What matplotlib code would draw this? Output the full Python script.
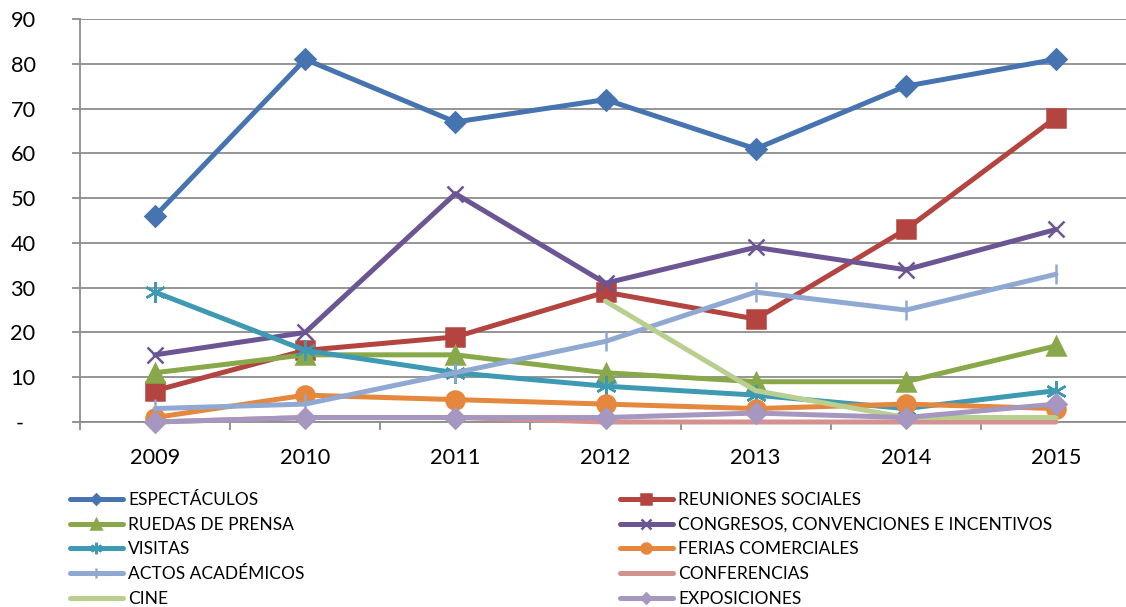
import numpy as np
import matplotlib
matplotlib.use("Agg")
import matplotlib.pyplot as plt
from matplotlib.ticker import FixedLocator

plt.rcParams['font.family'] = ['Lato', 'DejaVu Sans']

# events per year and type
years = ['2009', '2010', '2011', '2012', '2013', '2014', '2015']
espectaculos = [46, 81, 67, 72, 61, 75, 81]
reuniones = [7, 16, 19, 29, 23, 43, 68]
ruedas = [11, 15, 15, 11, 9, 9, 17]
congresos = [15, 20, 51, 31, 39, 34, 43]
visitas = [29, 16, 11, 8, 6, 3, 7]
ferias = [1, 6, 5, 4, 3, 4, 3]
actos = [3, 4, 11, 18, 29, 25, 33]
conferencias = [0, 1, 1, 0, 0, 0, 0]
cine = [np.nan, np.nan, np.nan, 27, 7, 1, 1]
exposiciones = [0, 1, 1, 1, 2, 1, 4]

series = [
    ('ESPECTÁCULOS', espectaculos, '#4674B0', 'D', 10),
    ('REUNIONES SOCIALES', reuniones, '#B3443F', 's', 13),
    ('RUEDAS DE PRENSA', ruedas, '#89A84A', '^', 13),
    ('CONGRESOS, CONVENCIONES E INCENTIVOS', congresos, '#6C5593', 'x', 12),
    ('VISITAS', visitas, '#3E9AB2', (6, 2, 0), 15),
    ('FERIAS COMERCIALES', ferias, '#E5873C', 'o', 13),
    ('ACTOS ACADÉMICOS', actos, '#90A9D2', '|', 14),
    ('CONFERENCIAS', conferencias, '#D49190', '', 0),
    ('CINE', cine, '#B8CF8F', '', 0),
    ('EXPOSICIONES', exposiciones, '#A597BF', 'D', 10),
]

fig = plt.figure(figsize=(11.26, 6.07), dpi=100)
ax = fig.add_axes([80 / 1126, 185 / 607, 1051 / 1126, 403 / 607])

x = np.arange(len(years))
handles = []
for i, (name, vals, col, mk, ms) in enumerate(series):
    h, = ax.plot(x, vals, color=col, lw=3.6, marker=mk if mk else None,
                 markersize=ms, markeredgewidth=1.8, label=name,
                 solid_capstyle='round', solid_joinstyle='round',
                 zorder=3 + i * 0.1, clip_on=False)
    handles.append(h)

ax.set_xlim(-0.5, 6.5)
ax.set_ylim(0, 90)
ax.set_yticks(range(0, 91, 10))
ax.set_yticklabels(['-  '] + [str(v) for v in range(10, 91, 10)])
ax.set_xticks(x)
ax.set_xticklabels(years)
ax.xaxis.set_minor_locator(FixedLocator(np.arange(-0.5, 7, 1)))
ax.tick_params(axis='x', which='major', length=0, pad=19, labelsize=15.7)
ax.tick_params(axis='x', which='minor', length=6, width=1.3, color='#8C8C8C')
ax.tick_params(axis='y', length=6, width=1.3, color='#8C8C8C', pad=26,
               labelsize=15.7)

ax.grid(axis='y', color='#8C8C8C', lw=1.3)
ax.set_axisbelow(True)
for s in ['top', 'right']:
    ax.spines[s].set_visible(False)
for s in ['left', 'bottom']:
    ax.spines[s].set_color('#8C8C8C')
    ax.spines[s].set_linewidth(1.3)

# two-column legend below the plot, filled row by row
left = [handles[i] for i in range(0, 10, 2)]
right = [handles[i] for i in range(1, 10, 2)]
kw = dict(frameon=False, fontsize=12.5, handlelength=3.05, handletextpad=0.3,
          labelspacing=0.5, borderpad=0, borderaxespad=0, loc='upper left',
          markerscale=0.55)
fig.legend(handles=left, bbox_to_anchor=(70 / 1126, 1 - 492 / 607), **kw)
fig.legend(handles=right, bbox_to_anchor=(620 / 1126, 1 - 492 / 607), **kw)

fig.savefig('out.png', dpi=100)
